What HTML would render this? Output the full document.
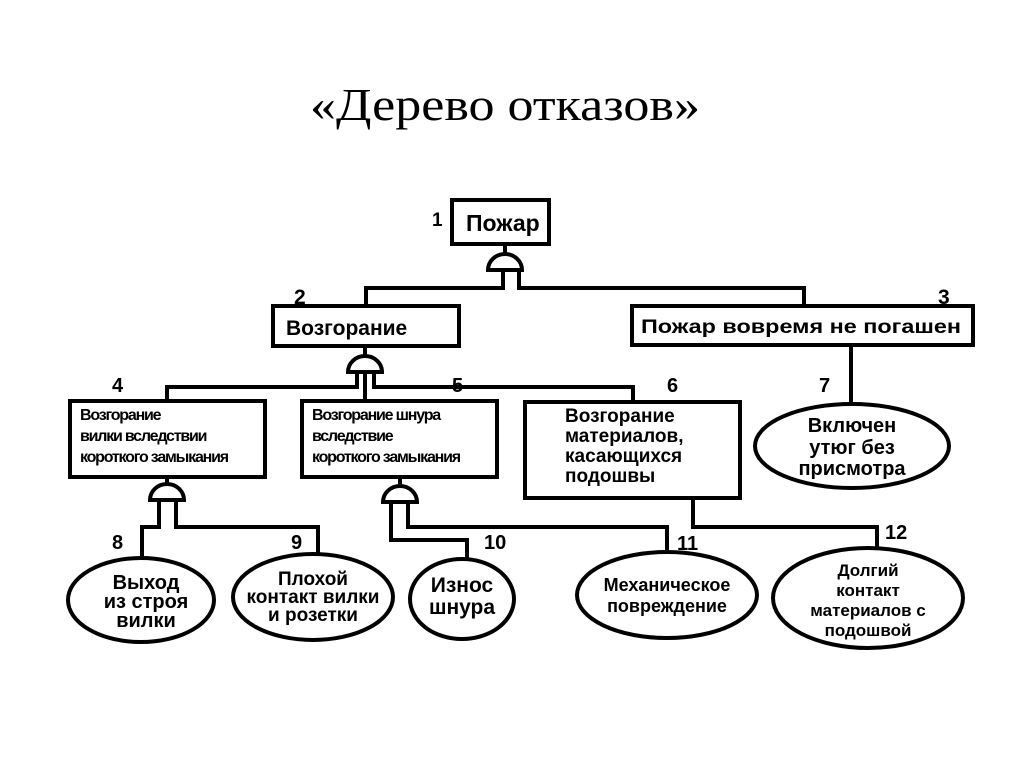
<!DOCTYPE html>
<html><head><meta charset="utf-8"><style>
html,body{margin:0;padding:0;background:#fff;}
svg{display:block}
.b{font-family:"Liberation Sans","DejaVu Sans",sans-serif;font-weight:bold;fill:#000}
</style></head><body>
<svg width="1024" height="767" viewBox="0 0 1024 767" xmlns="http://www.w3.org/2000/svg">
<rect width="1024" height="767" fill="#fff"/>
<text x="310" y="120" font-family="'Liberation Serif',serif" font-size="46" textLength="390" lengthAdjust="spacingAndGlyphs">«Дерево отказов»</text>
<g fill="none" stroke="#000" stroke-width="4">
<rect x="452" y="200" width="97" height="44"/>
<rect x="273" y="306" width="186" height="40"/>
<rect x="632" y="306" width="341" height="39"/>
<rect x="70" y="401" width="195" height="76"/>
<rect x="302" y="401" width="195" height="76"/>
<rect x="525" y="402" width="215" height="96"/>
<path d="M488,270 A17,16 0 0 1 522,270 Z M505,254 L505,246"/>
<path d="M503,270 L503,288 L366,288 L366,306 M519,270 L519,288 L804,288 L804,306"/>
<path d="M348,372 A17,16 0 0 1 382,372 Z M365,356 L365,347"/>
<path d="M357,372 L357,387 L167,387 L167,401 M365,372 L365,401 M374,372 L374,387 L633,387 L633,402"/>
<path d="M851,345 L851,403"/>
<path d="M150,500 A17,16 0 0 1 184,500 Z M167,484 L167,478"/>
<path d="M159,500 L159,527 L142,527 L142,556 M176,500 L176,527 L318,527 L318,554"/>
<path d="M383,502 A17,16 0 0 1 417,502 Z M400,486 L400,478"/>
<path d="M391,502 L391,540 L467,540 L467,559 M408,502 L408,527 L667,527 L667,552"/>
<path d="M693,498 L693,527 L877,527 L877,548"/>
<ellipse cx="852" cy="446" rx="97" ry="42"/>
<ellipse cx="141" cy="600" rx="73" ry="42"/>
<ellipse cx="313" cy="597" rx="80" ry="43"/>
<ellipse cx="462" cy="599" rx="52" ry="40"/>
<ellipse cx="667" cy="595" rx="90" ry="43"/>
<ellipse cx="868" cy="598" rx="95" ry="50"/>
</g>
<g class="b">
<text x="432" y="226" font-size="19">1</text>
<text x="466" y="231" font-size="23">Пожар</text>
<text x="294" y="304" font-size="21">2</text>
<text x="938" y="304" font-size="21">3</text>
<text x="286" y="335" font-size="21">Возгорание</text>
<text x="641" y="333" font-size="19" textLength="320" lengthAdjust="spacingAndGlyphs">Пожар вовремя не погашен</text>
<text x="112" y="392" font-size="20">4</text>
<text x="452" y="392" font-size="20">5</text>
<text x="667" y="392" font-size="20">6</text>
<text x="819" y="392" font-size="20">7</text>
<g font-size="16" letter-spacing="-1.2">
<text x="80" y="420">Возгорание</text>
<text x="80" y="441">вилки вследствии</text>
<text x="80" y="462">короткого замыкания</text>
<text x="312" y="420">Возгорание шнура</text>
<text x="312" y="441">вследствие</text>
<text x="312" y="462">короткого замыкания</text>
</g>
<g font-size="19">
<text x="565" y="422">Возгорание</text>
<text x="565" y="442">материалов,</text>
<text x="565" y="462">касающихся</text>
<text x="565" y="482">подошвы</text>
</g>
<g font-size="20" text-anchor="middle">
<text x="852" y="432">Включен</text>
<text x="852" y="454">утюг без</text>
<text x="852" y="475">присмотра</text>
<text x="146" y="589">Выход</text>
<text x="146" y="608">из строя</text>
<text x="146" y="627">вилки</text>
<text x="313" y="585" font-size="19">Плохой</text>
<text x="313" y="603" font-size="19">контакт вилки</text>
<text x="313" y="621" font-size="19">и розетки</text>
<text x="462" y="592" font-size="21">Износ</text>
<text x="462" y="614" font-size="21">шнура</text>
<text x="667" y="591" font-size="18">Механическое</text>
<text x="667" y="612" font-size="18">повреждение</text>
<text x="868" y="576" font-size="17">Долгий</text>
<text x="868" y="596" font-size="17">контакт</text>
<text x="868" y="616" font-size="17">материалов с</text>
<text x="868" y="636" font-size="17">подошвой</text>
</g>
<text x="112" y="549" font-size="20">8</text>
<text x="291" y="549" font-size="20">9</text>
<text x="484" y="549" font-size="20">10</text>
<text x="677" y="550" font-size="20">11</text>
<text x="885" y="539" font-size="20">12</text>
</g>
</svg>
</body></html>
